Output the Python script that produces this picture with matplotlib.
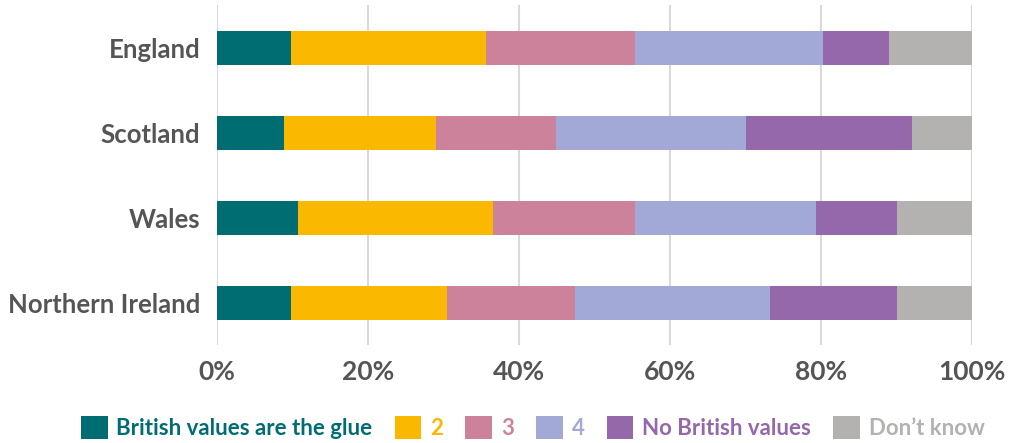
import matplotlib
matplotlib.use("Agg")
import matplotlib.pyplot as plt
import numpy as np

plt.rcParams['font.family'] = ['Lato', 'DejaVu Sans']
plt.rcParams['font.weight'] = 'bold'

regions = ["England", "Scotland", "Wales", "Northern Ireland"]
series = ["British values are the glue", "2", "3", "4", "No British values", "Don\u2019t know"]
colors = ["#006d72", "#fbb800", "#cd829b", "#a3a9d6", "#9468aa", "#b3b2b1"]

# share of respondents (%) per region for each answer
glue = [9.8, 8.9, 10.7, 9.8]
two = [25.8, 20.1, 25.9, 20.7]
three = [19.8, 15.9, 18.8, 16.9]
four = [24.9, 25.2, 23.9, 25.8]
no_values = [8.7, 22.0, 10.8, 16.9]
dont_know = [11.0, 7.9, 9.9, 9.9]

values = [glue, two, three, four, no_values, dont_know]

fig = plt.figure(figsize=(10.13, 4.43), dpi=100)
ax = fig.add_axes([0.2142, 0.2212, 0.9595 - 0.2142, 0.9887 - 0.2212])

y = np.arange(len(regions))
left = np.zeros(len(regions))
for vals, name, col in zip(values, series, colors):
    vals = np.array(vals, dtype=float)
    ax.barh(y, vals, left=left, height=0.4, color=col, label=name, zorder=2)
    left += vals

ax.set_xlim(0, 100)
ax.set_ylim(3.5, -0.5)
ax.set_xticks(np.arange(0, 101, 20))
ax.set_xticklabels([f"{v}%" for v in range(0, 101, 20)])
ax.set_yticks(y)
ax.set_yticklabels(regions)
ax.xaxis.grid(True, color="#d9d9d9", lw=1.5, zorder=0)
for s in ax.spines.values():
    s.set_visible(False)
ax.tick_params(axis="both", length=0, colors="#555555", labelsize=18.5)
ax.tick_params(axis="x", pad=11, labelsize=19)
ax.tick_params(axis="y", pad=12)

leg = fig.legend(loc="lower center", bbox_to_anchor=(0.526, -0.036), ncol=6, frameon=False,
                 fontsize=16, handlelength=1.2, handleheight=1.2, columnspacing=1.0,
                 handletextpad=0.4)
for txt, col in zip(leg.get_texts(), colors):
    txt.set_color(col)

fig.savefig("out.png", dpi=100)
